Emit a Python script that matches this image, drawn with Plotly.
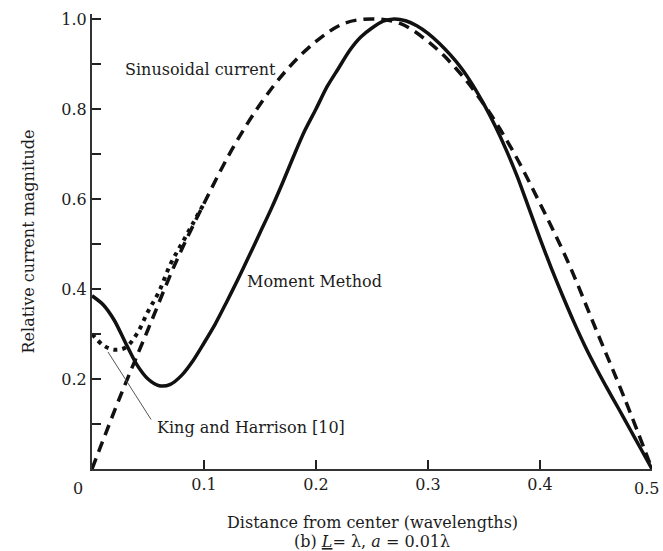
import plotly.graph_objects as go

# ---- data ----
sin_x = [0, 0.025, 0.05, 0.075, 0.1, 0.125, 0.15, 0.175, 0.2, 0.225, 0.25,
         0.275, 0.3, 0.325, 0.35, 0.375, 0.4, 0.425, 0.45, 0.475, 0.5]
sin_y = [0, 0.16, 0.31, 0.46, 0.59, 0.71, 0.81, 0.89, 0.95, 0.99, 1.0,
         0.99, 0.95, 0.89, 0.81, 0.71, 0.59, 0.46, 0.31, 0.16, 0]

mm_x = [0, 0.01, 0.02, 0.03, 0.04, 0.05, 0.06, 0.07, 0.08, 0.09, 0.10,
        0.11, 0.12, 0.13, 0.14, 0.15, 0.16, 0.17, 0.18, 0.19, 0.20,
        0.21, 0.22, 0.23, 0.24, 0.25, 0.26, 0.27, 0.28, 0.29, 0.30,
        0.31, 0.32, 0.33, 0.34, 0.35, 0.36, 0.37, 0.38, 0.39, 0.40,
        0.41, 0.42, 0.43, 0.44, 0.45, 0.46, 0.47, 0.48, 0.49, 0.50]
mm_y = [0.385, 0.365, 0.33, 0.28, 0.232, 0.200, 0.185, 0.188, 0.208, 0.240, 0.28,
        0.322, 0.37, 0.42, 0.472, 0.525, 0.578, 0.635, 0.695, 0.752, 0.80,
        0.85, 0.89, 0.93, 0.96, 0.98, 0.995, 1.0, 0.996, 0.985, 0.968,
        0.946, 0.92, 0.89, 0.853, 0.81, 0.762, 0.708, 0.648, 0.58, 0.512,
        0.447, 0.386, 0.328, 0.274, 0.225, 0.179, 0.135, 0.09, 0.045, 0.0]

kh_x = [0, 0.01, 0.02, 0.03, 0.04, 0.05, 0.06, 0.07, 0.08, 0.09, 0.10]
kh_y = [0.30, 0.275, 0.265, 0.27, 0.30, 0.35, 0.395, 0.455, 0.50, 0.545, 0.59]

y_ticks = [0.1, 0.2, 0.3, 0.4, 0.5, 0.6, 0.7, 0.8, 0.9, 1.0]
y_labels = ["", "0.2", "", "0.4", "", "0.6", "", "0.8", "", "1.0"]
x_ticks = [0.1, 0.2, 0.3, 0.4]
x_labels = ["0.1", "0.2", "0.3", "0.4"]

FONT = "DejaVu Serif"
TXT = "#1c1c1c"

fig = go.Figure()
fig.add_trace(go.Scatter(x=sin_x, y=sin_y, mode="lines", line_shape="spline",
                         line=dict(color="#111", width=3.5, dash="11px,7px")))
fig.add_trace(go.Scatter(x=kh_x, y=kh_y, mode="lines", line_shape="spline",
                         line=dict(color="#111", width=4, dash="4px,5px")))
fig.add_trace(go.Scatter(x=mm_x, y=mm_y, mode="lines", line_shape="spline",
                         line=dict(color="#111", width=3.5, smoothing=0.8)))

ann = [
    dict(text="Sinusoidal current", x=0.0973, y=0.888, xref="x", yref="y",
         showarrow=False, xanchor="center", yanchor="middle"),
    dict(text="Moment Method", x=0.199, y=0.416, xref="x", yref="y",
         showarrow=False, xanchor="center", yanchor="middle"),
    dict(text="King and Harrison [10]", x=0.056, y=0.0925, xref="x", yref="y",
         showarrow=False, xanchor="left", yanchor="middle"),
    dict(text="", x=0.0143, y=0.26, xref="x", yref="y", showarrow=True,
         arrowhead=0, arrowwidth=1, arrowcolor="#555", ax=44, ay=69,
         axref="pixel", ayref="pixel"),
    dict(text="0", x=0, y=0, xref="paper", yref="paper", showarrow=False,
         xanchor="center", yanchor="middle", xshift=-14, yshift=-19),
    dict(text="0.5", x=0.5, y=0, xref="x", yref="paper", showarrow=False,
         xanchor="right", yanchor="middle", xshift=9, yshift=-19),
    dict(text="Distance from center (wavelengths)", x=0.5, y=0, xref="paper",
         yref="paper", showarrow=False, xanchor="center", yanchor="middle",
         yshift=-53),
    dict(text="(b) <u><i>L</i></u>= λ, <i>a</i> = 0.01λ", x=0.5, y=0, xref="paper",
         yref="paper", showarrow=False, xanchor="center", yanchor="middle",
         yshift=-72),
    dict(text="Relative current magnitude", x=0, y=0.5, xref="paper",
         yref="paper", showarrow=False, xanchor="center", yanchor="middle",
         xshift=-64, textangle=-90),
]

fig.update_layout(
    width=663, height=551,
    margin=dict(l=92, r=11, t=10, b=82),
    paper_bgcolor="white", plot_bgcolor="white",
    showlegend=False,
    font=dict(family=FONT, size=16, color=TXT),
    annotations=ann,
    xaxis=dict(range=[0, 0.5], showgrid=False, zeroline=False,
               showline=True, linecolor="#333", linewidth=2,
               ticks="inside", ticklen=9, tickwidth=2, tickcolor="#222",
               tickvals=x_ticks, ticktext=x_labels,
               tickfont=dict(family=FONT, size=16, color=TXT)),
    yaxis=dict(range=[0, 1.011], showgrid=False, zeroline=False,
               showline=True, linecolor="#333", linewidth=2,
               ticks="inside", ticklen=9, tickwidth=2, tickcolor="#222",
               tickvals=y_ticks, ticktext=y_labels,
               tickfont=dict(family=FONT, size=16, color=TXT)),
)

fig.write_html("out.html")
